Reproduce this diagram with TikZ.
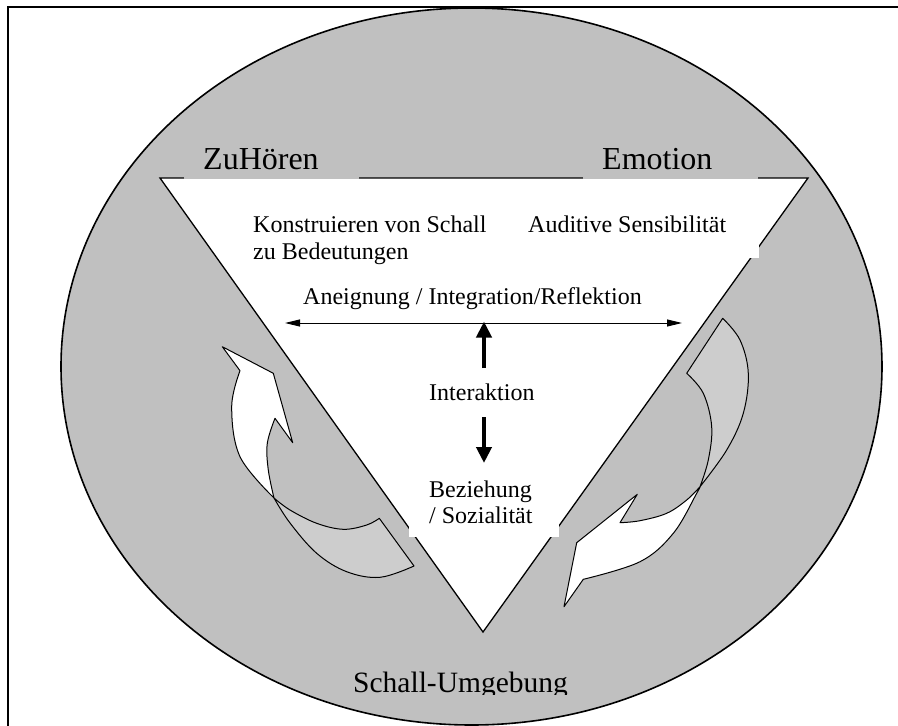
\documentclass[tikz,border=0pt]{standalone}
\usepackage{fontspec}
\setmainfont{Liberation Serif}
\usetikzlibrary{arrows.meta}
\definecolor{field}{RGB}{192,192,192}
\definecolor{ribbon}{RGB}{205,205,205}
\begin{document}
\begin{tikzpicture}[x=1pt,y=-1pt,
  outline/.style={draw=black,line width=1pt,line join=round},
  big/.style={font=\fontsize{32}{38}\selectfont,inner sep=0pt,anchor=base west},
  mid/.style={font=\fontsize{24}{27}\selectfont,inner sep=0pt,anchor=base west},
  low/.style={font=\fontsize{29.5}{34}\selectfont,inner sep=0pt,anchor=base west},
  thinarrow/.style={line width=1pt,{Triangle[length=15pt,width=7pt]}-{Triangle[length=15pt,width=7pt]}},
  thickarrow/.style={line width=4pt,-{Triangle[length=16pt,width=15pt]}}]
\useasboundingbox (0,0) rectangle (898,726);

% frame
\draw[line width=1.5pt] (8,726) -- (8,7) -- (898,7);

% surrounding sound field
\draw[fill=field,line width=1.6pt] (471.5,366.5) ellipse [x radius=410.5pt, y radius=358.5pt];

% central triangle
\draw[fill=white,line width=1.3pt,line join=miter] (160,178) -- (483,632) -- (808,178) -- cycle;

% left twisted arrow: back face, then front face
\path[outline,fill=ribbon] (274,498)
  -- plot[smooth,tension=0.6] coordinates {(274,498) (290,523) (316.7,553.3) (346.7,571.7) (380,577.3) (414,566)}
  -- (379.3,518.3)
  -- plot[smooth,tension=0.6] coordinates {(379.3,518.3) (366.7,525) (343.3,529.3) (316.7,523.3) (290,510) (274,498)}
  -- cycle;
\path[outline,fill=white] (222.3,346.7) -- (240,370.7)
  -- plot[smooth,tension=0.6] coordinates {(240,370.7) (231.7,406.7) (240,456.7) (274,498)}
  -- plot[smooth,tension=0.6] coordinates {(274,498) (268.3,470) (267.3,443.3) (275,418.3)}
  -- (292.7,442.7) -- (273.3,373.3) -- cycle;

% right twisted arrow: back face, then front face
\path[outline,fill=ribbon] (722.7,318.3)
  -- plot[smooth,tension=0.6] coordinates {(722.7,318.3) (740,340) (748.3,373.3) (743.3,413.3) (726.7,450) (700,486.7)}
  -- plot[smooth,tension=0.6] coordinates {(700,486.7) (708.3,460) (711.7,426.7) (703.3,393.3) (686.7,373.3)}
  -- cycle;
\path[outline,fill=white] (700,486.7)
  -- plot[smooth,tension=0.6] coordinates {(700,486.7) (686.7,500) (666.7,513.3) (640,520.7) (620,522.7)}
  -- (637.3,494.3) -- (576.7,542.7) -- (564,606.7) -- (583.3,579.3)
  -- plot[smooth,tension=0.6] coordinates {(583.3,579.3) (640,561.7) (673.3,533.3) (696.7,493.3) (700,486.7)}
  -- cycle;

% label backgrounds
\fill[field] (184,138) rectangle (359,179);
\fill[field] (583,138) rectangle (758,179);
\fill[white] (520,213) rectangle (759,258);
\fill[white] (409,470) rectangle (559,537);

% corner labels
\node[big] (zuhoeren) at (203,169) {ZuHören};
\node[big] (emotion) at (602,169) {Emotion};
\begin{scope}
  \clip (300,640) rectangle (640,694.5);
  \node[low] (umgebung) at (353,692) {Schall-Umgebung};
\end{scope}

% inner labels
\node[mid] (konstr) at (253,232) {Konstruieren von Schall};
\node[mid] (bedeut) at (253,259) {zu Bedeutungen};
\node[mid] (auditiv) at (528,232) {Auditive Sensibilität};
\node[mid] (aneign) at (303,304) {Aneignung / Integration/Reflektion};
\node[mid] (interakt) at (429,400) {Interaktion};
\node[mid] (bezieh) at (429,497) {Beziehung};
\node[mid] (sozial) at (429,523) {/ Sozialität};

% arrows
\coordinate (hl) at (285,323);
\coordinate (hr) at (682,323);
\draw[thinarrow] (hl) -- (hr);
\coordinate (upstart) at (484,368);
\coordinate (upend) at (484,321.5);
\draw[thickarrow] (upstart) -- (upend);
\coordinate (downstart) at (484,417);
\coordinate (downend) at (484,463);
\draw[thickarrow] (downstart) -- (downend);
\end{tikzpicture}
\end{document}
